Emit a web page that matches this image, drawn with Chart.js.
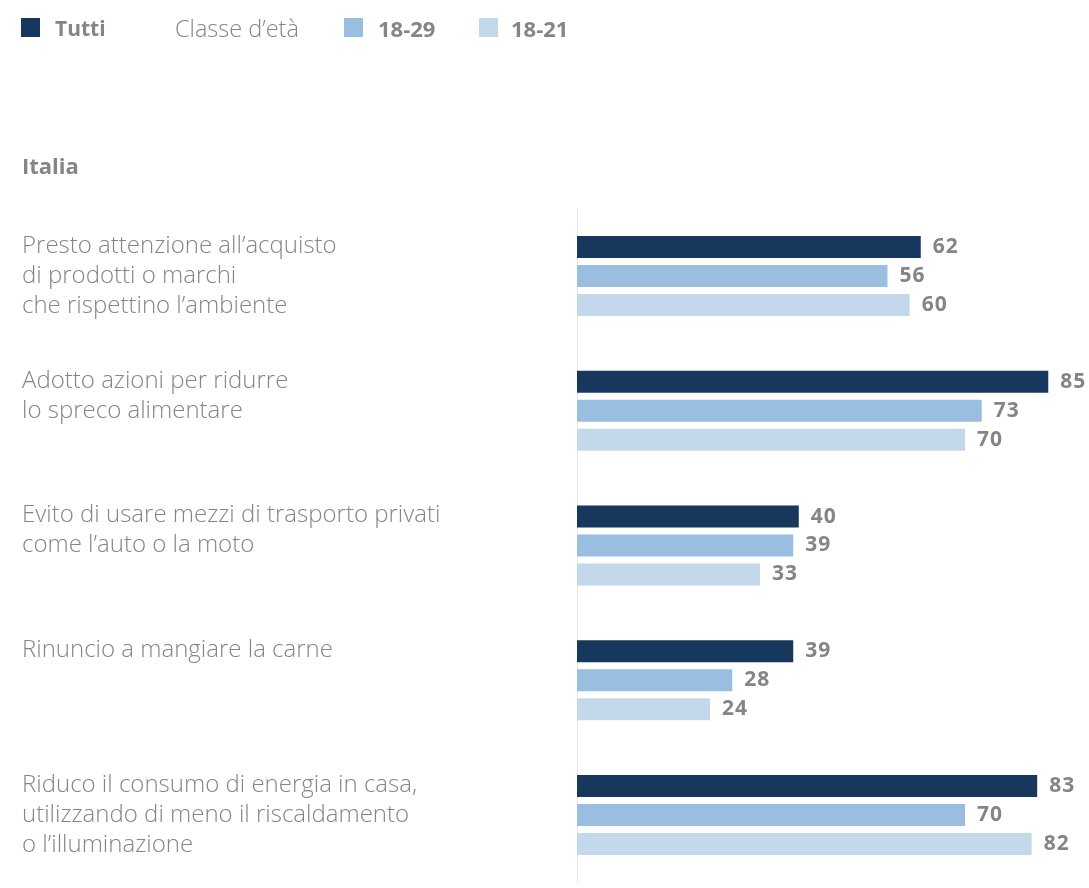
<!DOCTYPE html>
<html lang="it">
<head>
<meta charset="utf-8">
<title>Italia – comportamenti sostenibili</title>
<script src="https://cdn.jsdelivr.net/npm/chart.js@4"></script>
<style>
  html, body { margin: 0; padding: 0; background: #ffffff; }
  #wrap { position: relative; width: 1089px; height: 888px; overflow: hidden;
          font-family: "Open Sans", Roboto, sans-serif; color: #858585; }
  #chart { position: absolute; left: 0; top: 0; }
  .sw { position: absolute; width: 19px; height: 19px; top: 18px; }
  .lg { position: absolute; top: 13px; height: 30px; line-height: 30px; font-size: 22px; white-space: nowrap; }
  .lg.b { font-weight: 700; }
  .lg.t { font-size: 21px; }
  .lg.l { font-weight: 300; font-size: 23.5px; }
  .title { position: absolute; left: 22px; top: 148px; height: 34px; line-height: 34px;
           font-weight: 700; font-size: 22px; }
</style>
</head>
<body>
<div id="wrap">
  <canvas id="chart" width="1089" height="888"></canvas>
  <span class="sw" style="left:21px;background:#17375d"></span>
  <span class="lg b t" style="left:55px">Tutti</span>
  <span class="lg l" style="left:175px">Classe d’età</span>
  <span class="sw" style="left:344px;background:#9abee0"></span>
  <span class="lg b" style="left:378px">18-29</span>
  <span class="sw" style="left:479px;background:#c4d8ec"></span>
  <span class="lg b" style="left:511px">18-21</span>
  <div class="title">Italia</div>
</div>
<script>
// Behaviours (each entry holds the lines of one label)
const categories = [
  ['Presto attenzione all’acquisto', 'di prodotti o marchi', 'che rispettino l’ambiente'],
  ['Adotto azioni per ridurre', 'lo spreco alimentare'],
  ['Evito di usare mezzi di trasporto privati', 'come l’auto o la moto'],
  ['Rinuncio a mangiare la carne'],
  ['Riduco il consumo di energia in casa,', 'utilizzando di meno il riscaldamento', 'o l’illuminazione']
];

// Percentages per group
const tutti   = [62, 85, 40, 39, 83];
const eta1829 = [56, 73, 39, 28, 70];
const eta1821 = [60, 70, 33, 24, 82];

const seriesNames = ['Tutti', '18-29', '18-21'];
const seriesColors = ['#17375d', '#9abee0', '#c4d8ec'];

// Pad each label to three lines so its first line sits beside the first bar
const paddedLabels = categories.map(lines => {
  const out = lines.slice();
  while (out.length < 3) out.push('');
  return out;
});

const valueLabels = {
  id: 'valueLabels',
  afterDatasetsDraw(chart) {
    const ctx = chart.ctx;
    ctx.save();
    ctx.font = '700 21px "Open Sans", Roboto, sans-serif';
    ctx.fillStyle = '#858585';
    ctx.textAlign = 'left';
    ctx.textBaseline = 'middle';
    if ('letterSpacing' in ctx) ctx.letterSpacing = '1px';
    chart.data.datasets.forEach((ds, i) => {
      const meta = chart.getDatasetMeta(i);
      meta.data.forEach((bar, j) => {
        ctx.fillText(String(ds.data[j]), bar.x + 12, bar.y);
      });
    });
    ctx.restore();
  }
};

new Chart(document.getElementById('chart'), {
  type: 'bar',
  data: {
    labels: paddedLabels,
    datasets: [tutti, eta1829, eta1821].map((values, i) => ({
      label: seriesNames[i],
      data: values,
      backgroundColor: seriesColors[i],
      borderWidth: 0,
      categoryPercentage: 0.644,
      barPercentage: 0.759
    }))
  },
  options: {
    indexAxis: 'y',
    responsive: false,
    animation: false,
    layout: { padding: { left: 22, right: 13, top: 208.6, bottom: 5.6 } },
    plugins: { legend: { display: false }, tooltip: { enabled: false } },
    scales: {
      x: { display: false, min: 0, max: 90 },
      y: {
        grid: { display: false },
        border: { display: true, color: '#e6e6e6', width: 1 },
        afterFit(scale) {
          scale.width = 555;
          scale.paddingTop = 0;
          scale.paddingBottom = 0;
        },
        ticks: {
          crossAlign: 'far',
          color: '#858585',
          padding: 0,
          autoSkip: false,
          font: { family: '"Open Sans", Roboto, sans-serif', size: 24, weight: '300', lineHeight: 1.25 }
        }
      }
    }
  },
  plugins: [valueLabels]
});
</script>
</body>
</html>
